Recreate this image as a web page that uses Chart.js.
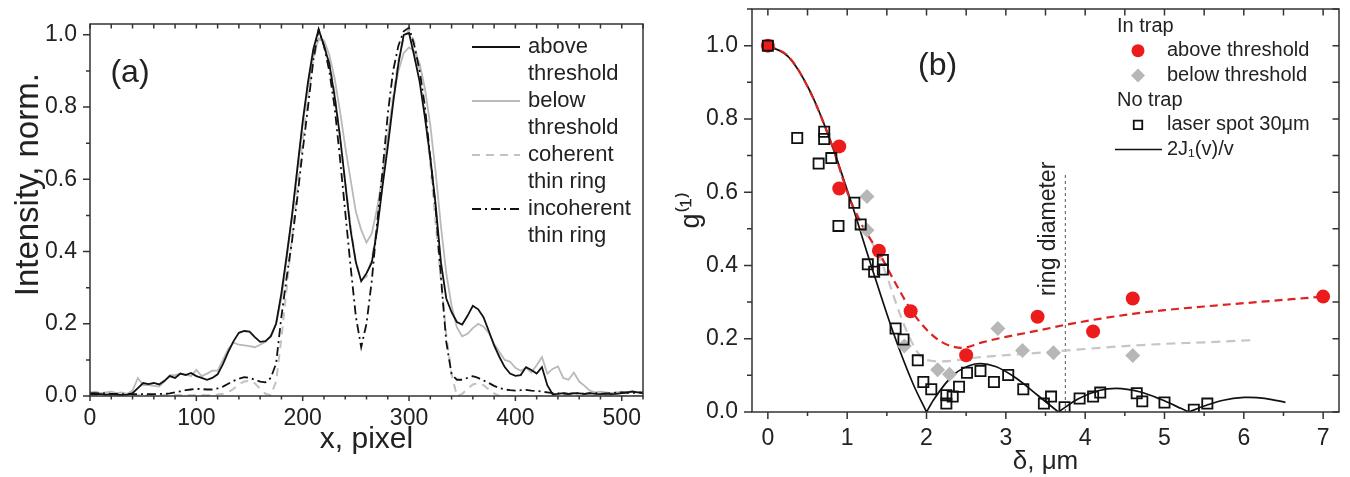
<!DOCTYPE html>
<html>
<head>
<meta charset="utf-8">
<title>Ring profiles and first-order coherence</title>
<script src="https://cdn.jsdelivr.net/npm/chart.js@4.4.1/dist/chart.umd.min.js"></script>
<style>
  body { margin: 0; background: #fff; }
  .panel { position: absolute; top: 0; width: 675px; height: 477px; }
  #panelA { left: 0; }
  #panelB { left: 675px; }
</style>
</head>
<body>
<div class="panel" id="panelA"><canvas id="chartA" width="675" height="477"></canvas></div>
<div class="panel" id="panelB"><canvas id="chartB" width="675" height="477"></canvas></div>
<script>
const FONT = "'Liberation Sans', Arial, Helvetica, sans-serif";
const INK = '#222';

// ---- panel (a): intensity cross sections ----
const xPix = [0, 5, 10, 15, 20, 25, 30, 35, 40, 45, 50, 55, 60, 65, 70, 75, 80, 85, 90, 95,
  100, 105, 110, 115, 120, 125, 130, 135, 140, 145, 150, 155, 160, 165, 170, 175, 180, 185, 190, 195,
  200, 205, 210, 215, 220, 225, 230, 235, 240, 245, 250, 255, 260, 265, 270, 275, 280, 285, 290, 295,
  300, 305, 310, 315, 320, 325, 330, 335, 340, 345, 350, 355, 360, 365, 370, 375, 380, 385, 390, 395,
  400, 405, 410, 415, 420, 425, 430, 435, 440, 445, 450, 455, 460, 465, 470, 475, 480, 485, 490, 495,
  500, 505, 510, 515, 520];
const aboveThr = [0.005, 0.006, 0.005, 0.004, 0.005, 0.004, 0.003, 0.004, 0.008, 0.022, 0.036, 0.033, 0.036, 0.032, 0.042, 0.055, 0.05, 0.062, 0.058, 0.064,
  0.055, 0.05, 0.045, 0.05, 0.06, 0.088, 0.122, 0.152, 0.175, 0.18, 0.178, 0.163, 0.15, 0.152, 0.165, 0.2, 0.285, 0.39, 0.5, 0.63,
  0.76, 0.87, 0.96, 1.015, 0.97, 0.92, 0.83, 0.72, 0.59, 0.46, 0.37, 0.318, 0.34, 0.37, 0.46, 0.58, 0.69, 0.81, 0.92, 1.0,
  1.005, 0.94, 0.87, 0.77, 0.66, 0.53, 0.37, 0.27, 0.232, 0.205, 0.198, 0.222, 0.25, 0.24, 0.218, 0.18, 0.14, 0.108, 0.08, 0.062,
  0.056, 0.058, 0.08, 0.072, 0.062, 0.08, 0.03, 0.005, 0.006, 0.008, 0.006, 0.008, 0.007, 0.006, 0.008, 0.006, 0.005, 0.007, 0.005, 0.006,
  0.008, 0.01, 0.012, 0.01, 0.008];
const belowThr = [0.01, 0.012, 0.008, 0.01, 0.012, 0.008, 0.01, 0.006, 0.015, 0.05, 0.03, 0.03, 0.028, 0.026, 0.04, 0.058, 0.058, 0.062, 0.06, 0.055,
  0.072, 0.055, 0.062, 0.07, 0.07, 0.1, 0.13, 0.148, 0.142, 0.14, 0.138, 0.135, 0.142, 0.15, 0.168, 0.2, 0.27, 0.38, 0.5, 0.63,
  0.75, 0.86, 0.94, 0.99, 0.985, 0.945, 0.88, 0.79, 0.69, 0.6, 0.51, 0.46, 0.425, 0.45, 0.52, 0.61, 0.72, 0.82, 0.9, 0.95,
  0.965, 0.955, 0.92, 0.85, 0.75, 0.62, 0.47, 0.34, 0.25, 0.19, 0.165, 0.172, 0.188, 0.2, 0.192, 0.175, 0.145, 0.122, 0.1, 0.095,
  0.078, 0.07, 0.078, 0.065, 0.085, 0.108, 0.062, 0.075, 0.082, 0.05, 0.045, 0.065, 0.04, 0.028, 0.015, 0.01, 0.012, 0.01, 0.008, 0.01,
  0.012, 0.01, 0.014, 0.01, 0.012];
const coherentRing = [0.003, 0.003, 0.002, 0.003, 0.003, 0.002, 0.003, 0.002, 0.003, 0.003, 0.002, 0.003, 0.003, 0.002, 0.003, 0.003, 0.002, 0.003, 0.003, 0.002,
  0.003, 0.003, 0.002, 0.003, 0.004, 0.006, 0.01, 0.02, 0.032, 0.04, 0.042, 0.035, 0.02, 0.006, 0.002, 0.04, 0.16, 0.3, 0.44, 0.58,
  0.71, 0.83, 0.93, 0.99, 0.98, 0.93, 0.84, 0.72, 0.59, 0.47, 0.37, 0.322, 0.33, 0.38, 0.47, 0.59, 0.71, 0.83, 0.93, 0.99,
  1.015, 0.98, 0.9, 0.78, 0.64, 0.48, 0.32, 0.17, 0.06, 0.0, 0.006, 0.02, 0.032, 0.036, 0.03, 0.018, 0.007, 0.0, 0.0, 0.0,
  0.0, 0.0, 0.0, 0.0, 0.0, 0.0, 0.0, 0.0, 0.0, 0.0, 0.0, 0.0, 0.0, 0.0, 0.0, 0.0, 0.0, 0.0, 0.0, 0.0,
  0.0, 0.0, 0.0, 0.0, 0.0];
const incoherentRing = [0.008, 0.008, 0.007, 0.007, 0.006, 0.006, 0.005, 0.005, 0.005, 0.005, 0.005, 0.005, 0.005, 0.006, 0.006, 0.007, 0.01, 0.013, 0.016, 0.018,
  0.02, 0.019, 0.018, 0.018, 0.021, 0.026, 0.034, 0.042, 0.048, 0.052, 0.05, 0.045, 0.04, 0.038, 0.05, 0.09, 0.22, 0.33, 0.43, 0.55,
  0.68, 0.8, 0.93, 1.015, 0.97, 0.9, 0.8, 0.66, 0.51, 0.36, 0.22, 0.135, 0.2, 0.32, 0.48, 0.62, 0.78, 0.9, 0.97, 1.01,
  1.02, 0.97, 0.9, 0.8, 0.66, 0.52, 0.33, 0.15, 0.06, 0.045, 0.045, 0.05, 0.055, 0.05, 0.043, 0.036, 0.028, 0.022, 0.018, 0.016,
  0.015, 0.016, 0.017, 0.015, 0.014, 0.012, 0.01, 0.008, 0.007, 0.007, 0.006, 0.007, 0.008, 0.006, 0.007, 0.008, 0.007, 0.006, 0.008, 0.009,
  0.01, 0.009, 0.008, 0.01, 0.009];
const labelsA = ['above\nthreshold', 'below\nthreshold', 'coherent\nthin ring', 'incoherent\nthin ring'];

// ---- panel (b): g(1) versus separation ----
const aboveX = [0, 0.9, 0.9, 1.4, 1.8, 2.5, 3.4, 4.1, 4.6, 7.0];
const aboveY = [1.0, 0.725, 0.61, 0.44, 0.275, 0.155, 0.26, 0.22, 0.31, 0.315];
const belowX = [1.25, 1.25, 1.72, 2.14, 2.29, 2.9, 3.21, 3.6, 4.6];
const belowY = [0.588, 0.496, 0.18, 0.115, 0.103, 0.228, 0.168, 0.162, 0.154];
const spotX = [0, 0.37, 0.64, 0.71, 0.71, 0.8, 0.89, 1.09, 1.17, 1.26, 1.34, 1.45, 1.45, 1.61, 1.71, 1.89, 1.96, 2.06, 2.25,
  2.25, 2.33, 2.41, 2.51, 2.68, 2.85, 3.03, 3.22, 3.48, 3.57, 3.74, 3.93, 4.1, 4.19, 4.65, 4.72, 5.0, 5.37, 5.54];
const spotY = [1.0, 0.748, 0.678, 0.765, 0.745, 0.693, 0.508, 0.571, 0.512, 0.403, 0.383, 0.415, 0.389, 0.228, 0.198, 0.141, 0.082, 0.062, 0.046,
  0.023, 0.042, 0.069, 0.107, 0.112, 0.082, 0.101, 0.062, 0.023, 0.042, 0.013, 0.037, 0.042, 0.053, 0.051, 0.029, 0.026, 0.006, 0.023];
// |2J1(v)/v|; nulls split it at the zeros so the cusps stay sharp
const airyX = [0, 0.261, 0.522, 0.783, 1.044, 1.305, 1.566, 1.827, 2.0, 2.0, 2.0, 2.088, 2.349, 2.61, 2.681, 2.871, 3.132, 3.393, 3.662,
  3.662, 3.662, 3.915, 4.176, 4.393, 4.698, 4.959, 5.22, 5.31, 5.31, 5.31, 5.481, 5.742, 6.003, 6.065, 6.264, 6.525];
const airyY = [1, 0.969, 0.88, 0.744, 0.577, 0.398, 0.226, 0.0785, 0, null, 0, 0.033, 0.103, 0.131, 0.1323, 0.124, 0.092, 0.047, 0,
  null, 0, 0.036, 0.0587, 0.0645, 0.0545, 0.034, 0.0087, 0, null, 0, 0.015, 0.032, 0.0397, 0.04, 0.0372, 0.0265];
const aboveFitX = [0, 0.26, 0.52, 0.78, 1.04, 1.2, 1.4, 1.6, 1.8, 2.0, 2.2, 2.45, 2.7, 3.0, 3.4, 3.8, 4.2, 4.6, 5.0, 5.5, 6.0, 6.5, 7.0];
const aboveFitY = [1, 0.97, 0.88, 0.745, 0.578, 0.505, 0.435, 0.355, 0.28, 0.225, 0.19, 0.175, 0.19, 0.205, 0.222, 0.24, 0.255, 0.268, 0.278, 0.288, 0.297, 0.306, 0.315];
const belowFitX = [0, 0.26, 0.52, 0.78, 1.04, 1.25, 1.47, 1.66, 1.76, 1.89, 2.0, 2.2, 2.6, 3.0, 3.5, 4.0, 4.5, 5.0, 5.5, 6.1];
const belowFitY = [1, 0.97, 0.88, 0.745, 0.578, 0.49, 0.388, 0.27, 0.216, 0.162, 0.142, 0.138, 0.148, 0.155, 0.163, 0.172, 0.18, 0.186, 0.19, 0.196];
const ringDiameter = 3.75;
const labelsB = ['laser spot 30\u03bcm', 'above threshold', 'below threshold', '2J\u2081(v)/v'];

const pts = (xs, ys) => xs.map((x, i) => ({ x: x, y: ys[i] }));
const font = (size) => ({ family: FONT, size: size });

// frame round the plot area plus major/minor tick marks (outward on the labelled sides, inward on the others)
const frameTicks = {
  id: 'frameTicks',
  afterDraw(chart, args, o) {
    const { ctx, chartArea: a, scales: { x, y } } = chart;
    const marks = (scale, step) => {
      const out = [];
      for (let k = Math.ceil(scale.min / step - 1e-6); k * step <= scale.max + 1e-9; k++) out.push(k * step);
      return out;
    };
    const isMajor = (v, step) => Math.abs(v / step - Math.round(v / step)) < 1e-6;
    ctx.save();
    ctx.strokeStyle = '#333';
    ctx.lineWidth = 1.5;
    ctx.strokeRect(a.left, a.top, a.right - a.left, a.bottom - a.top);
    ctx.beginPath();
    marks(x, o.xMinor).forEach(v => {
      const p = x.getPixelForValue(v);
      const len = isMajor(v, o.xMajor) ? o.xOut[0] : o.xOut[1];
      ctx.moveTo(p, a.bottom); ctx.lineTo(p, a.bottom + len);
      if (o.top) { ctx.moveTo(p, a.top); ctx.lineTo(p, a.top + o.inLen); }
    });
    marks(y, o.yMinor).forEach(v => {
      const p = y.getPixelForValue(v);
      const len = isMajor(v, o.yMajor) ? o.yOut[0] : o.yOut[1];
      ctx.moveTo(a.left - len, p); ctx.lineTo(a.left, p);
      if (o.right) { ctx.moveTo(a.right - o.inLen, p); ctx.lineTo(a.right, p); }
    });
    ctx.stroke();
    ctx.restore();
  }
};

function drawMarker(ctx, style, r, cx, cy) {
  ctx.beginPath();
  if (style === 'circle') ctx.arc(cx, cy, r, 0, Math.PI * 2);
  else if (style === 'rectRot') { ctx.moveTo(cx - r, cy); ctx.lineTo(cx, cy - r); ctx.lineTo(cx + r, cy); ctx.lineTo(cx, cy + r); ctx.closePath(); }
  else { const s = r * Math.SQRT1_2; ctx.rect(cx - s, cy - s, 2 * s, 2 * s); }
}

// hand-laid legend: headers, markers, line samples, labels that wrap onto two lines
const panelLegend = {
  id: 'panelLegend',
  afterDraw(chart, args, o) {
    if (!o.items) return;
    const ctx = chart.ctx;
    ctx.save();
    ctx.font = o.size + 'px ' + FONT;
    ctx.textBaseline = 'middle';
    let y = o.y;
    o.items.forEach(item => {
      if (item.header) {
        ctx.fillStyle = INK;
        ctx.fillText(item.header, o.headerX, y);
        y += o.step;
        return;
      }
      const ds = chart.data.datasets[item.ds];
      if (item.line) {
        ctx.strokeStyle = ds.borderColor;
        ctx.lineWidth = ds.borderWidth;
        ctx.setLineDash(ds.borderDash || []);
        ctx.beginPath(); ctx.moveTo(o.lineX0, y); ctx.lineTo(o.lineX1, y); ctx.stroke();
        ctx.setLineDash([]);
      } else {
        drawMarker(ctx, ds.pointStyle, item.r, o.markerX, y);
        ctx.fillStyle = ds.backgroundColor;
        ctx.fill();
        if (ds.borderWidth) { ctx.strokeStyle = ds.borderColor; ctx.lineWidth = ds.borderWidth; ctx.stroke(); }
      }
      ctx.fillStyle = INK;
      ds.label.split('\n').forEach(line => { ctx.fillText(line, o.textX, y); y += o.step; });
    });
    ctx.restore();
  }
};

// free text placed in data coordinates
const panelText = {
  id: 'panelText',
  afterDraw(chart, args, o) {
    const { ctx, scales: { x, y } } = chart;
    (o.items || []).forEach(t => {
      ctx.save();
      ctx.font = t.size + 'px ' + FONT;
      ctx.fillStyle = INK;
      ctx.textAlign = 'center';
      ctx.textBaseline = 'middle';
      ctx.translate(x.getPixelForValue(t.x), y.getPixelForValue(t.y));
      if (t.rotate) ctx.rotate(t.rotate * Math.PI / 180);
      ctx.fillText(t.text, 0, 0);
      ctx.restore();
    });
  }
};

// pin scale boxes to fixed sizes so both plot areas land where the figure has them
const fixWidth = (w) => (s) => { s.width = w; s.paddingTop = 0; s.paddingBottom = 0; };
const fixHeight = (h) => (s) => { s.height = h; s.paddingLeft = 0; s.paddingRight = 0; };

Chart.defaults.font.family = FONT;
Chart.defaults.color = INK;

new Chart(document.getElementById('chartA'), {
  type: 'line',
  data: {
    datasets: [
      { label: labelsA[0], data: pts(xPix, aboveThr), borderColor: '#111', borderWidth: 1.8, order: 0 },
      { label: labelsA[1], data: pts(xPix, belowThr), borderColor: '#b9b9b9', borderWidth: 1.8, order: 2 },
      { label: labelsA[2], data: pts(xPix, coherentRing), borderColor: '#c2c2c2', borderWidth: 2, borderDash: [8, 6], order: 3 },
      { label: labelsA[3], data: pts(xPix, incoherentRing), borderColor: '#111', borderWidth: 1.8, borderDash: [9, 4, 2, 4], order: 1 }
    ]
  },
  options: {
    responsive: false,
    animation: false,
    events: [],
    elements: { point: { radius: 0 }, line: { tension: 0 } },
    layout: { padding: { top: 24, right: 32, left: 0, bottom: 0 } },
    scales: {
      x: {
        type: 'linear', min: 0, max: 520,
        grid: { display: false, drawTicks: false },
        border: { display: false },
        ticks: { stepSize: 100, includeBounds: false, padding: 9, maxRotation: 0, autoSkip: false, font: font(23), color: INK },
        title: { display: true, text: 'x, pixel', font: font(30), color: INK, padding: { top: 0, bottom: 19 } },
        afterFit: fixHeight(81)
      },
      y: {
        type: 'linear', min: 0, max: 1.03,
        grid: { display: false, drawTicks: false },
        border: { display: false },
        ticks: { stepSize: 0.2, includeBounds: false, padding: 13, font: font(23), color: INK, callback: v => v.toFixed(1) },
        afterFit: fixWidth(90)
      }
    },
    plugins: {
      legend: { display: false },
      tooltip: { enabled: false },
      frameTicks: { xMajor: 100, xMinor: 20, yMajor: 0.2, yMinor: 0.1, xOut: [5, 3.5], yOut: [7, 4], inLen: 4.5, top: true, right: false },
      panelLegend: {
        size: 22, y: 47, step: 27, lineX0: 472, lineX1: 520, textX: 528,
        items: [{ ds: 0, line: true }, { ds: 1, line: true }, { ds: 2, line: true }, { ds: 3, line: true }]
      },
      panelText: {
        items: [
          { text: '(a)', x: 37.6, y: 0.893, size: 32 },
          { text: 'Intensity, norm.', x: -57, y: 0.585, size: 33, rotate: -90 }
        ]
      }
    }
  },
  plugins: [frameTicks, panelLegend, panelText]
});

new Chart(document.getElementById('chartB'), {
  type: 'scatter',
  data: {
    datasets: [
      { label: labelsB[0], data: pts(spotX, spotY), pointStyle: 'rect', pointRadius: 7.2, backgroundColor: 'rgba(0,0,0,0)', borderColor: '#111', borderWidth: 1.8, order: 0 },
      { label: labelsB[1], data: pts(aboveX, aboveY), pointStyle: 'circle', pointRadius: 7, backgroundColor: '#ec1c1c', borderColor: '#ec1c1c', borderWidth: 0, order: 1 },
      { label: labelsB[2], data: pts(belowX, belowY), pointStyle: 'rectRot', pointRadius: 7.5, backgroundColor: '#b7b7b7', borderColor: '#b7b7b7', borderWidth: 0, order: 2 },
      { label: 'above threshold fit', data: pts(aboveFitX, aboveFitY), showLine: true, pointRadius: 0, borderColor: '#dd2222', borderWidth: 2.2, borderDash: [8, 5], cubicInterpolationMode: 'monotone', order: 3 },
      { label: labelsB[3], data: pts(airyX, airyY), showLine: true, pointRadius: 0, borderColor: '#111', borderWidth: 1.7, cubicInterpolationMode: 'monotone', order: 4 },
      { label: 'below threshold fit', data: pts(belowFitX, belowFitY), showLine: true, pointRadius: 0, borderColor: '#c6c6c6', borderWidth: 2.2, borderDash: [9, 6], cubicInterpolationMode: 'monotone', order: 5 },
      { label: 'ring diameter', data: [{ x: ringDiameter, y: 0 }, { x: ringDiameter, y: 0.655 }], showLine: true, pointRadius: 0, borderColor: '#555', borderWidth: 1, borderDash: [3, 3], order: 6 }
    ]
  },
  options: {
    responsive: false,
    animation: false,
    events: [],
    layout: { padding: { top: 7, right: 11, left: 0, bottom: 0 } },
    scales: {
      x: {
        type: 'linear', min: -0.2, max: 7.2,
        grid: { display: false, drawTicks: false },
        border: { display: false },
        ticks: { stepSize: 1, includeBounds: false, padding: 13, maxRotation: 0, autoSkip: false, font: font(23), color: INK },
        title: { display: true, text: '\u03b4, \u03bcm', font: font(26), color: INK, padding: { top: 0, bottom: 0 } },
        afterFit: fixHeight(65)
      },
      y: {
        type: 'linear', min: 0, max: 1.1,
        grid: { display: false, drawTicks: false },
        border: { display: false },
        ticks: { stepSize: 0.2, includeBounds: false, padding: 14, font: font(23), color: INK, callback: v => v.toFixed(1) },
        title: { display: true, text: 'g\u207d\u00b9\u207e', font: font(27), color: INK, padding: { top: 0, bottom: 0 } },
        afterFit: fixWidth(77)
      }
    },
    plugins: {
      legend: { display: false },
      tooltip: { enabled: false },
      frameTicks: { xMajor: 1, xMinor: 0.5, yMajor: 0.2, yMinor: 0.1, xOut: [7, 4], yOut: [8, 5], inLen: 6.5, top: true, right: true },
      panelLegend: {
        size: 20, y: 26, step: 24.7, headerX: 442, markerX: 463, lineX0: 440, lineX1: 487, textX: 492,
        items: [
          { header: 'In trap' },
          { ds: 1, r: 6.5 },
          { ds: 2, r: 7 },
          { header: 'No trap' },
          { ds: 0, r: 6 },
          { ds: 4, line: true }
        ]
      },
      panelText: {
        items: [
          { text: '(b)', x: 2.14, y: 0.943, size: 32 },
          { text: 'ring diameter', x: 3.54, y: 0.5, size: 23, rotate: -90 }
        ]
      }
    }
  },
  plugins: [frameTicks, panelLegend, panelText]
});
</script>
</body>
</html>
